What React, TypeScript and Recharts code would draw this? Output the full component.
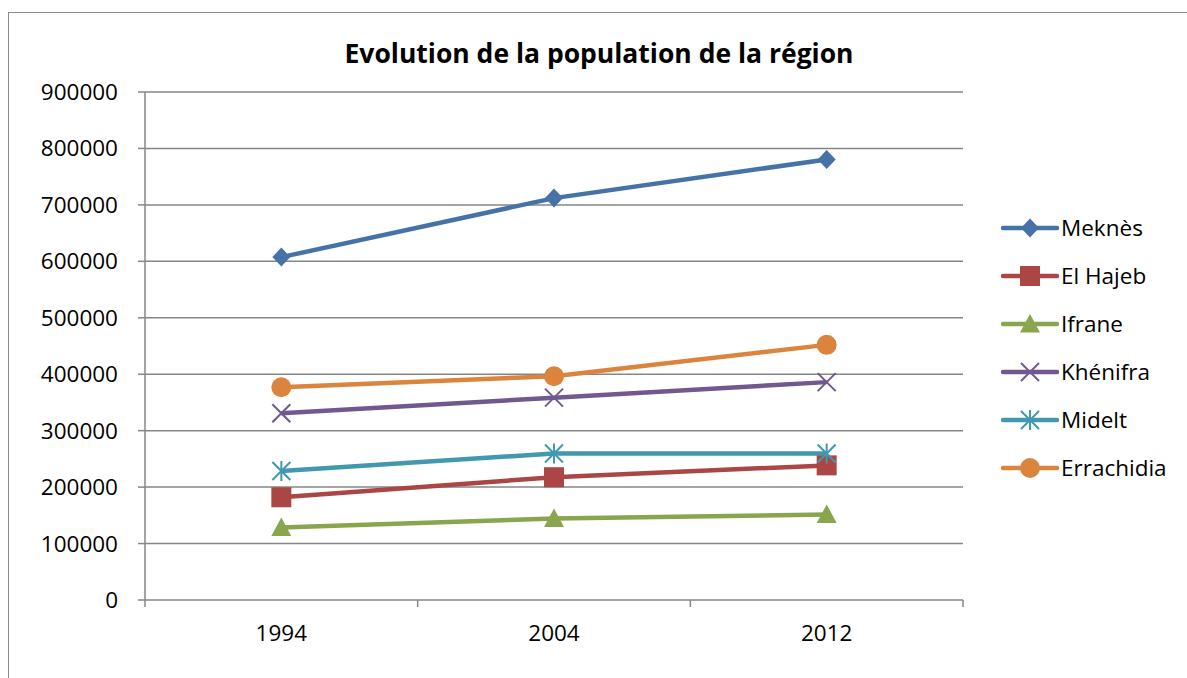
import React from 'react';
import { LineChart, Line, XAxis, YAxis, CartesianGrid, Legend } from 'recharts';

const years = ['1994', '2004', '2012'];
const meknes = [607500, 712000, 780500];
const elHajeb = [182000, 217500, 238500];
const ifrane = [128500, 144500, 151500];
const khenifra = [331000, 358500, 386000];
const midelt = [228500, 259500, 259500];
const errachidia = [377000, 396500, 452000];
const yTicks = [0, 100000, 200000, 300000, 400000, 500000, 600000, 700000, 800000, 900000];

const FONT = '"Open Sans", Lato, sans-serif';
const GRID = '#868686';
const X_TICK_GAP = 25;

const data = years.map((year, i) => ({
  year,
  meknes: meknes[i],
  elHajeb: elHajeb[i],
  ifrane: ifrane[i],
  khenifra: khenifra[i],
  midelt: midelt[i],
  errachidia: errachidia[i],
}));

type Shape = 'diamond' | 'square' | 'triangle' | 'x' | 'star' | 'circle';

const series: { key: string; name: string; color: string; shape: Shape }[] = [
  { key: 'meknes', name: 'Meknès', color: '#4572A7', shape: 'diamond' },
  { key: 'elHajeb', name: 'El Hajeb', color: '#AA4643', shape: 'square' },
  { key: 'ifrane', name: 'Ifrane', color: '#89A54E', shape: 'triangle' },
  { key: 'khenifra', name: 'Khénifra', color: '#71588F', shape: 'x' },
  { key: 'midelt', name: 'Midelt', color: '#4198AF', shape: 'star' },
  { key: 'errachidia', name: 'Errachidia', color: '#DB843D', shape: 'circle' },
];

function Marker({ cx, cy, shape, color }: { cx: number; cy: number; shape: Shape; color: string }) {
  switch (shape) {
    case 'diamond':
      return <polygon points={`${cx},${cy - 9.5} ${cx + 9},${cy} ${cx},${cy + 9.5} ${cx - 9},${cy}`} fill={color} />;
    case 'square':
      return <rect x={cx - 10} y={cy - 10} width={20} height={20} fill={color} />;
    case 'triangle':
      return <polygon points={`${cx},${cy - 10} ${cx + 10},${cy + 8.5} ${cx - 10},${cy + 8.5}`} fill={color} />;
    case 'x':
      return (
        <g stroke={color} strokeWidth={2}>
          <line x1={cx - 9} y1={cy - 9} x2={cx + 9} y2={cy + 9} />
          <line x1={cx - 9} y1={cy + 9} x2={cx + 9} y2={cy - 9} />
        </g>
      );
    case 'star':
      return (
        <g stroke={color} strokeWidth={2}>
          <line x1={cx - 9} y1={cy - 9} x2={cx + 9} y2={cy + 9} />
          <line x1={cx - 9} y1={cy + 9} x2={cx + 9} y2={cy - 9} />
          <line x1={cx} y1={cy - 10} x2={cx} y2={cy + 10} />
        </g>
      );
    default:
      return <circle cx={cx} cy={cy} r={10} fill={color} />;
  }
}

// category label at band centre, tick marks at band edges (Excel style)
function YearTick(props: any) {
  const { x, y, payload, index } = props;
  const half = payload.offset || 0;
  const top = y - X_TICK_GAP;
  const last = index === years.length - 1;
  return (
    <g>
      <line x1={x - half} y1={top} x2={x - half} y2={top + 7} stroke={GRID} strokeWidth={1.5} />
      {last && <line x1={x + half} y1={top} x2={x + half} y2={top + 7} stroke={GRID} strokeWidth={1.5} />}
      <text x={x} y={y} dy="0.71em" textAnchor="middle" fontFamily={FONT} fontSize={22.5} fill="#000">
        {payload.value}
      </text>
    </g>
  );
}

function LegendBox() {
  return (
    <div style={{ fontFamily: FONT, fontSize: 22.5, color: '#000', lineHeight: '24px' }}>
      {series.map((s) => (
        <div key={s.key} style={{ height: 48, display: 'flex', alignItems: 'center' }}>
          <svg width={60} height={24} style={{ display: 'block' }}>
            <line x1={2} y1={12} x2={56} y2={12} stroke={s.color} strokeWidth={4.5} strokeLinecap="round" />
            <Marker cx={29} cy={12} shape={s.shape} color={s.color} />
          </svg>
          <span>{s.name}</span>
        </div>
      ))}
    </div>
  );
}

export default function App() {
  return (
    <div style={{ position: 'relative', width: 1187, height: 678, overflow: 'hidden', background: '#fff' }}>
      <style>{'body{margin:0;overflow:hidden}'}</style>
      <div
        style={{
          position: 'absolute',
          left: 8,
          top: 12,
          width: 1300,
          height: 800,
          border: '1.5px solid #8c8c8c',
        }}
      />
      <svg width={1187} height={80} style={{ position: 'absolute', left: 0, top: 0 }}>
        <text x={599} y={63} textAnchor="middle" fontFamily={FONT} fontWeight="bold" fontSize={26.5} fill="#000">
          Evolution de la population de la région
        </text>
      </svg>
      <div style={{ position: 'absolute', left: 0, top: 0 }}>
        <LineChart width={1187} height={678} data={data} margin={{ top: 92, right: 38, bottom: 30, left: 0 }}>
          <CartesianGrid vertical={false} stroke={GRID} strokeWidth={1.5} />
          <XAxis
            dataKey="year"
            scale="band"
            axisLine={false}
            tickLine={false}
            tickSize={0}
            tickMargin={X_TICK_GAP}
            height={48}
            interval={0}
            tick={<YearTick />}
          />
          <YAxis
            domain={[0, 900000]}
            ticks={yTicks}
            interval={0}
            width={145}
            tickSize={7}
            tickMargin={20}
            axisLine={{ stroke: GRID, strokeWidth: 1.5 }}
            tickLine={{ stroke: GRID, strokeWidth: 1.5 }}
            tick={{ fontFamily: FONT, fontSize: 22.5, fill: '#000' }}
          />
          <Legend
            layout="vertical"
            align="right"
            verticalAlign="top"
            content={() => <LegendBox />}
            wrapperStyle={{ left: 1001, top: 204, width: 186 }}
          />
          {series.map((s) => (
            <Line
              key={s.key}
              dataKey={s.key}
              name={s.name}
              stroke={s.color}
              strokeWidth={4.5}
              isAnimationActive={false}
              activeDot={false}
              dot={(p: any) => (
                <g key={`${s.key}-${p.index}`}>
                  <Marker cx={p.cx} cy={p.cy} shape={s.shape} color={s.color} />
                </g>
              )}
            />
          ))}
        </LineChart>
      </div>
    </div>
  );
}
